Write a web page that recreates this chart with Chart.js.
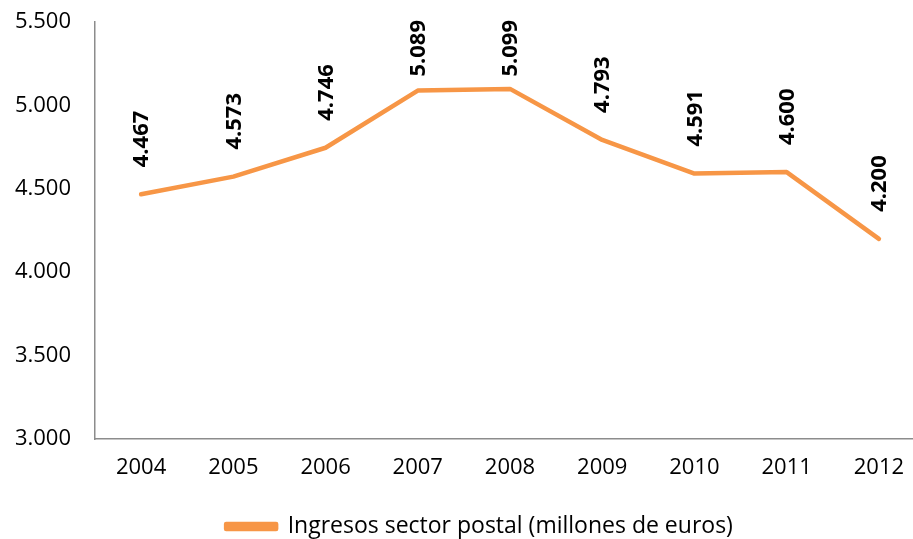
<!DOCTYPE html>
<html>
<head>
<meta charset="utf-8">
<script src="https://cdn.jsdelivr.net/npm/chart.js@4/dist/chart.umd.min.js"></script>
<style>
    html, body { margin: 0; padding: 0; background: #fff; overflow: hidden; }
    #wrap { width: 925px; height: 539px; }
</style>
</head>
<body>
<div id="wrap"><canvas id="chart" width="925" height="539"></canvas></div>
<script>
const years = ["2004", "2005", "2006", "2007", "2008", "2009", "2010", "2011", "2012"];
const ingresos = [4467, 4573, 4746, 5089, 5099, 4793, 4591, 4600, 4200];
const seriesName = "Ingresos sector postal (millones de euros)";
const yMin = 3000;
const yMax = 5500;
const yStep = 500;

const FONT = "'Open Sans', sans-serif";
const ORANGE = "#F79646";

//Spanish style thousands separator
function fmt(v) {
    return String(v).replace(/\B(?=(\d{3})+(?!\d))/g, ".");
}

//Draws the rotated value labels above every point
const valueLabels = {
    id: "valueLabels",
    afterDatasetsDraw(chart) {
        const ctx = chart.ctx;
        const meta = chart.getDatasetMeta(0);
        ctx.save();
        ctx.font = "bold 22px " + FONT;
        ctx.fillStyle = "#000";
        ctx.textAlign = "left";
        ctx.textBaseline = "middle";
        meta.data.forEach((pt, i) => {
            const text = fmt(chart.data.datasets[0].data[i]);
            const w = ctx.measureText(text).width;
            let start = pt.y - 27;
            if (start - w < 20) start = 20 + w;
            ctx.save();
            ctx.translate(pt.x + 1, start);
            ctx.rotate(-Math.PI / 2);
            ctx.fillText(text, 0, 0);
            ctx.restore();
        });
        ctx.restore();
    }
};

//The legend sits a bit right of centre in the original
const legendShift = {
    id: "legendShift",
    afterLayout(chart) {
        chart.legend.left += 17;
        chart.legend.right += 17;
    }
};

new Chart(document.getElementById("chart"), {
    type: "line",
    data: {
        labels: years,
        datasets: [{
            label: seriesName,
            data: ingresos,
            borderColor: ORANGE,
            backgroundColor: ORANGE,
            borderWidth: 4.5,
            pointRadius: 0,
            tension: 0,
            borderJoinStyle: "round",
            borderCapStyle: "round"
        }]
    },
    options: {
        responsive: false,
        animation: false,
        layout: { padding: { top: 22, left: 0, right: 0, bottom: -9 } },
        plugins: {
            tooltip: { enabled: false },
            legend: {
                position: "bottom",
                labels: {
                    color: "#000",
                    font: { family: FONT, size: 23 },
                    boxWidth: 50,
                    boxHeight: 5,
                    padding: 14
                }
            }
        },
        scales: {
            x: {
                offset: true,
                grid: { display: false, drawTicks: false },
                border: { display: true, color: "#8c8c8c", width: 1.5 },
                ticks: { color: "#000", font: { family: FONT, size: 22 }, padding: 16, maxRotation: 0 },
                afterFit(scale) { scale.height = 62; }
            },
            y: {
                min: yMin,
                max: yMax,
                grid: { display: false, drawTicks: false },
                border: { display: true, color: "#8c8c8c", width: 1.5 },
                ticks: {
                    stepSize: yStep,
                    color: "#000",
                    font: { family: FONT, size: 22 },
                    padding: 24,
                    callback: (v) => fmt(v)
                },
                afterFit(scale) {
                    scale.width = 95;
                    scale.paddingTop = 0;
                    scale.paddingBottom = 0;
                }
            }
        }
    },
    plugins: [valueLabels, legendShift]
});
</script>
</body>
</html>
